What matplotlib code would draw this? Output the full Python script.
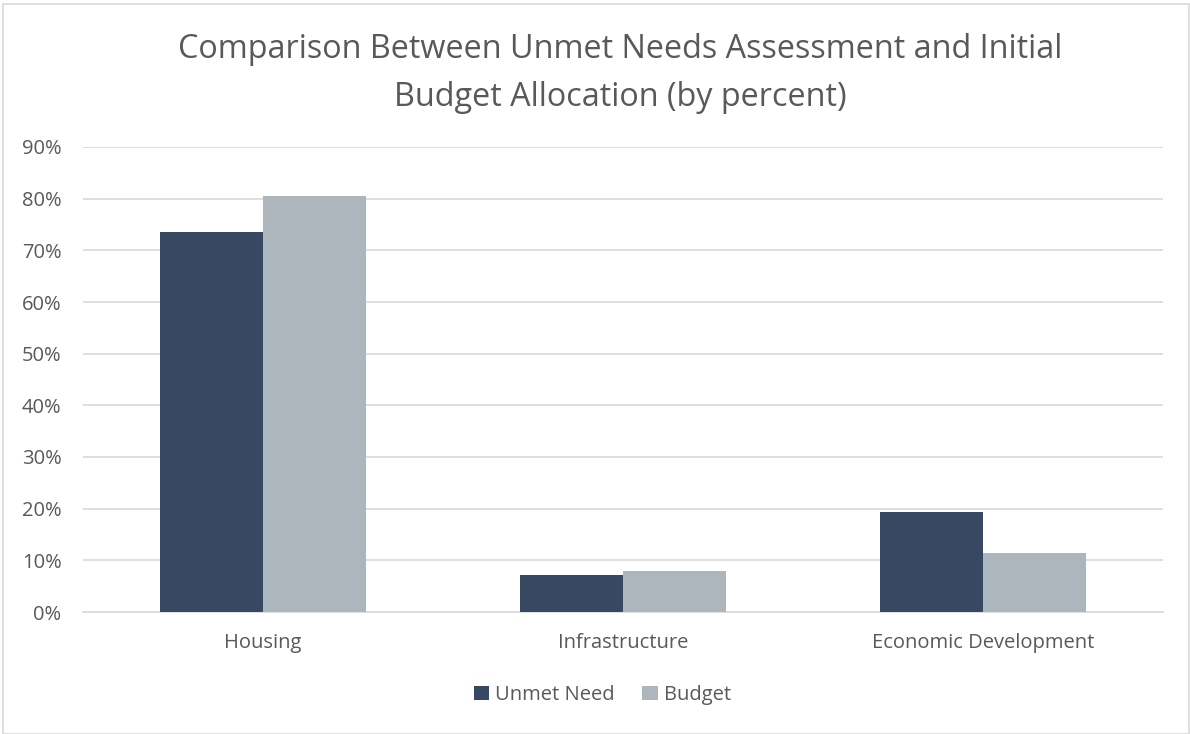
import numpy as np
import matplotlib
matplotlib.use("Agg")
import matplotlib.pyplot as plt
from matplotlib.patches import Rectangle
from matplotlib.ticker import PercentFormatter

# -*- data -*-
categories = ["Housing", "Infrastructure", "Economic Development"]
unmet_need = [73.5, 7.2, 19.3]
budget = [80.6, 7.9, 11.5]
series_names = ["Unmet Need", "Budget"]
y_ticks = [0, 10, 20, 30, 40, 50, 60, 70, 80, 90]

# -*- style -*-
plt.rcParams['font.family'] = ['Open Sans', 'DejaVu Sans']
text_color = "#595959"
grid_color = "#D9D9D9"
colors = ["#384863", "#ADB5BD"]

fig = plt.figure(figsize=(11.9, 7.34), dpi=100)
ax = fig.add_axes([83 / 1190, 1 - 612 / 734, 1080 / 1190, 465 / 734])

x = np.arange(len(categories))
bar_w = 0.286
ax.bar(x - bar_w / 2, unmet_need, bar_w, color=colors[0], label=series_names[0], zorder=3)
ax.bar(x + bar_w / 2, budget, bar_w, color=colors[1], label=series_names[1], zorder=3)

ax.set_xlim(-0.5, len(categories) - 0.5)
ax.set_ylim(0, 90)
ax.set_yticks(y_ticks)
ax.yaxis.set_major_formatter(PercentFormatter(decimals=0))
ax.set_xticks(x)
ax.set_xticklabels(categories)
ax.tick_params(axis='both', length=0, labelsize=14.5, colors=text_color)
ax.tick_params(axis='y', pad=15.5)
ax.tick_params(axis='x', pad=15)
ax.grid(axis='y', color=grid_color, linewidth=1.2, zorder=0)
for s in ["top", "right", "left"]:
    ax.spines[s].set_visible(False)
ax.spines["bottom"].set_color(grid_color)
ax.spines["bottom"].set_linewidth(1.2)

fig.text(0.521, 1 - 73 / 734, "Comparison Between Unmet Needs Assessment and Initial\nBudget Allocation (by percent)",
         ha='center', va='center', fontsize=23.3, color=text_color, linespacing=1.6)

fig.legend(loc='center', bbox_to_anchor=(0.506, 1 - 695 / 734), ncol=2, frameon=False,
           fontsize=14.5, labelcolor=text_color, handlelength=0.75, handleheight=0.75,
           handletextpad=0.3, columnspacing=1.4)

fig.patches.append(Rectangle((3 / 1190, 0), 1 - 4 / 1190, 1 - 4 / 734, transform=fig.transFigure,
                             fill=False, edgecolor="#D9D9D9", linewidth=1.2))

fig.savefig("out.png", dpi=100)
